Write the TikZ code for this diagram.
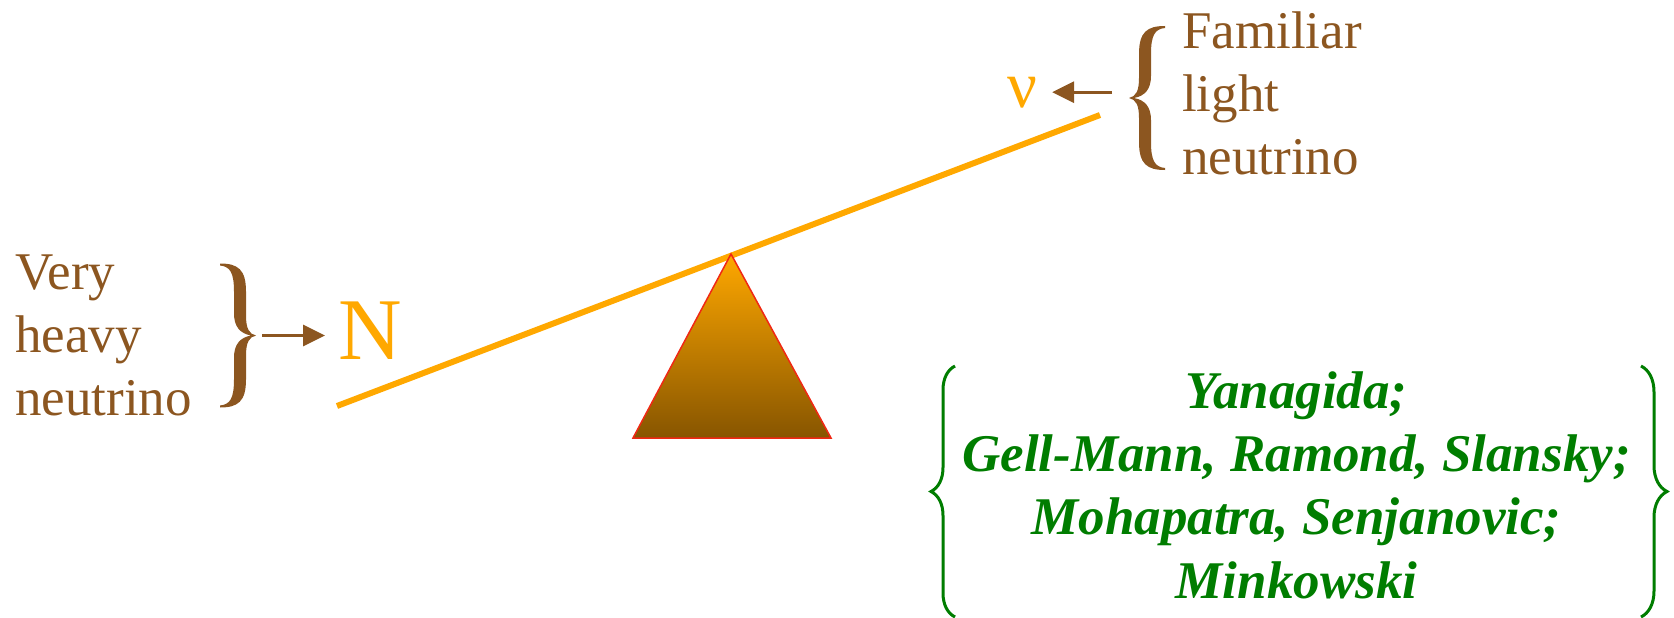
\documentclass[tikz,border=0pt]{standalone}
\usepackage{fontspec}
\usepackage{graphicx}
\setmainfont{Liberation Serif}
\usetikzlibrary{arrows.meta,decorations.pathreplacing}
\definecolor{sawor}{RGB}{255,168,0}
\definecolor{brn}{RGB}{140,86,32}
\definecolor{grn}{RGB}{0,125,0}
\definecolor{tribot}{RGB}{135,85,0}
\definecolor{trired}{RGB}{240,40,20}
\begin{document}
\begin{tikzpicture}[x=1pt,y=-1pt,
  btext/.style={text=brn, font=\fontsize{53}{63}\selectfont, align=left, inner sep=0},
  barrow/.style={draw=brn, line width=3pt, -{Triangle[length=22pt,width=21pt]}},
  gbrace/.style={draw=grn, line width=3pt, decorate},
  greek/.style={inner sep=0, text=sawor},
  curly/.pic={
    \fill[brn] (0,-72) .. controls (18,-72) and (26,-66) .. (26,-44)
      -- (26,-20) .. controls (26,-7) and (29,-1.5) .. (36,0)
      .. controls (29,1.5) and (26,7) .. (26,20)
      -- (26,44) .. controls (26,66) and (18,72) .. (0,72)
      -- (0,70) .. controls (10,69) and (14,63) .. (14,44)
      -- (14,22) .. controls (14,9) and (20,2) .. (31,0)
      .. controls (20,-2) and (14,-9) .. (14,-22)
      -- (14,-44) .. controls (14,-63) and (10,-69) .. (0,-70) -- cycle;
    \coordinate (-tip) at (36,0);
  }]
\useasboundingbox (0,0) rectangle (1674,618);

\draw[sawor, line width=6pt] (337,406) -- (1100,115);
\shade[top color=sawor, bottom color=tribot, draw=trired, line width=1.5pt]
  (731,254) -- (633,438) -- (831,438) -- cycle;

\node[btext, anchor=base west] (heavy) at (15,415) {Very\\heavy\\neutrino};
\node[btext, anchor=base west] (light) at (1182,174) {Familiar\\light\\neutrino};

\pic (rb) at (220,335.5) {curly};
\pic[xscale=-1] (lb) at (1165,98) {curly};

\node[greek, font=\fontsize{88}{88}\selectfont, anchor=base west] (N) at (338,359) {N};
\node[greek, font=\fontsize{66}{66}\selectfont, anchor=base] (nu) at (1022,107) {ν};

\draw[barrow] ([xshift=6pt]rb-tip) -- ([xshift=-13pt]rb-tip -| N.west);
\draw[barrow] ([xshift=-17pt]lb-tip |- nu.east) -- ([xshift=15pt]nu.east);

\node[text=grn, font=\fontsize{53}{63.3}\selectfont\bfseries\itshape, align=center,
  anchor=base, inner sep=0] (auth) at (1296.5,598)
  {Yanagida;\\Gell-Mann, Ramond, Slansky;\\Mohapatra, Senjanovic;\\Minkowski};

\draw[gbrace, decoration={brace, amplitude=24pt}] (955,617) -- (955,366);
\draw[gbrace, decoration={brace, amplitude=26pt}] (1641,366) -- (1641,617);
\end{tikzpicture}
\end{document}
